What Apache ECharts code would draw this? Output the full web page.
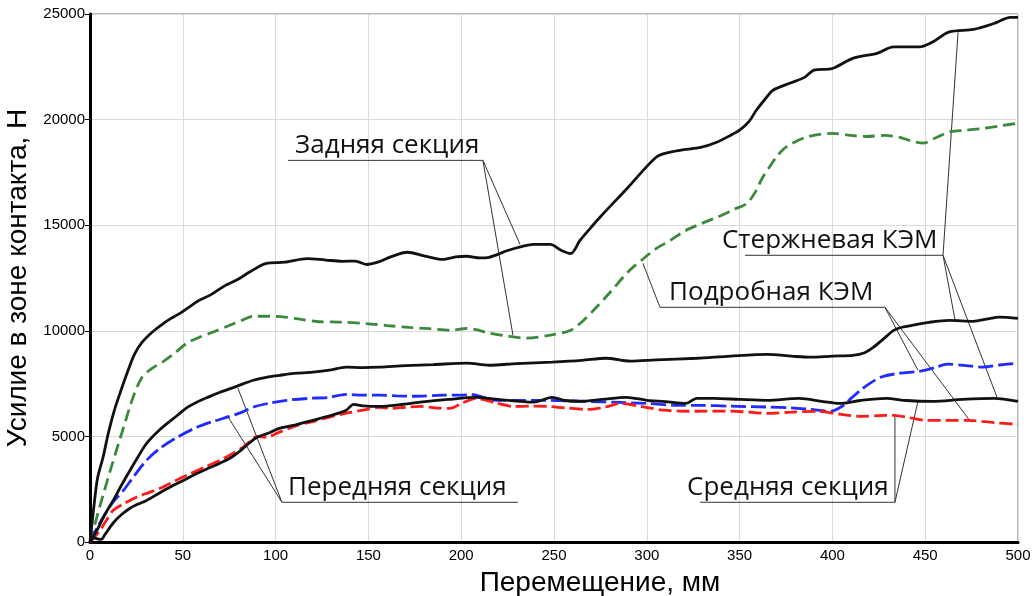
<!DOCTYPE html>
<html>
<head>
<meta charset="utf-8">
<script src="https://cdn.jsdelivr.net/npm/echarts@6/dist/echarts.min.js"></script>
<style>
  html, body { margin: 0; padding: 0; background: #fff; }
  #chart { width: 1033px; height: 596px; }
</style>
</head>
<body>
<div id="chart"></div>
<script>
// Contact force vs displacement for three sections, rod FE model (solid) and detailed FE model (dashed)

// Rear section, rod model
const rearRod = [[0,0],[2,1600],[4,3000],[7,4000],[10,5200],[13,6200],[16,7000],[20,8000],[24,8900],[28,9450],[33,9900],[38,10250],[43,10550],[48,10800],[53,11100],[58,11400],[65,11700],[72,12100],[80,12450],[86,12780],[95,13190],[105,13250],[117,13420],[127,13350],[136,13290],[143,13300],[149,13140],[155,13250],[162,13500],[171,13720],[180,13550],[190,13380],[197,13500],[203,13530],[210,13450],[215,13480],[225,13800],[233,14000],[239,14090],[248,14090],[254,13800],[259,13660],[264,14280],[270,14900],[275,15400],[290,16800],[305,18220],[312,18450],[320,18580],[329,18680],[338,18940],[345,19250],[350,19500],[355,19900],[359,20440],[364,21000],[368,21390],[377,21720],[385,22000],[390,22340],[400,22420],[411,22900],[424,23140],[433,23440],[447,23440],[454,23670],[463,24150],[476,24270],[487,24550],[496,24840],[500,24840]];
// Rear section, detailed model
const rearDet = [[0,0],[6,1900],[12,3700],[18,5400],[23,6800],[28,7800],[33,8200],[39,8520],[45,8900],[52,9400],[59,9700],[66,9930],[75,10250],[82,10500],[88,10690],[97,10690],[105,10650],[113,10550],[122,10440],[130,10420],[138,10400],[149,10340],[160,10250],[172,10160],[183,10100],[194,10030],[203,10110],[208,10050],[215,9890],[225,9750],[235,9650],[248,9790],[259,10030],[266,10500],[273,11130],[280,11800],[290,12800],[298,13400],[305,13890],[313,14300],[321,14750],[330,15100],[338,15380],[347,15750],[354,16040],[359,16650],[362,17200],[366,17740],[370,18250],[375,18700],[386,19170],[400,19350],[410,19250],[418,19200],[428,19250],[436,19170],[442,19000],[449,18890],[456,19150],[463,19420],[472,19500],[481,19580],[490,19700],[500,19830]];
// Front section, rod model
const frontRod = [[0,0],[4,600],[8,1300],[12.5,1970],[17,2700],[21.6,3400],[26,4050],[30.5,4670],[38,5350],[47,5990],[52,6350],[57.5,6620],[64,6870],[70,7090],[79,7370],[88,7660],[95,7800],[102,7890],[110,7980],[120,8040],[130,8150],[138,8280],[147,8260],[156,8280],[170,8350],[185,8400],[203,8470],[215,8370],[230,8450],[249,8520],[265,8600],[278,8700],[291,8560],[305,8620],[327,8700],[345,8800],[365,8880],[378,8800],[388,8750],[400,8800],[411,8840],[417,8950],[422,9220],[428,9650],[433,10020],[438,10180],[443,10260],[452,10400],[463,10490],[476,10450],[483,10550],[490,10650],[500,10590]];
// Front section, detailed model
const frontDet = [[0,0],[4,700],[8,1300],[12.5,1900],[18,2440],[24,3150],[30.5,3870],[38,4450],[47,4960],[57.5,5430],[66,5700],[74,5910],[82,6150],[88,6390],[97,6580],[106,6710],[118,6800],[129,6850],[138,6990],[147,6950],[156,6950],[165,6920],[174,6900],[190,6950],[200,6950],[205,6990],[212,6850],[219,6710],[232,6700],[246,6710],[260,6680],[270,6650],[282,6620],[300,6560],[318,6470],[329,6470],[345,6430],[365,6390],[378,6350],[388,6280],[399,6190],[406,6470],[410,6800],[415,7180],[420,7500],[426,7800],[436,7990],[447,8080],[455,8250],[462,8420],[472,8350],[481,8280],[490,8380],[500,8470]];
// Middle section, rod model
const midRod = [[0,0],[2,200],[4,150],[6,120],[8,350],[12.5,900],[17,1300],[21.6,1600],[26,1800],[30.5,1970],[37,2300],[43,2590],[50,2900],[57.5,3240],[64,3500],[70,3730],[76,4000],[82.5,4430],[86,4700],[90,4960],[96,5150],[102,5380],[111,5550],[120,5760],[130,6000],[138,6240],[142,6520],[147,6450],[156,6420],[167,6500],[178,6620],[193,6750],[208,6850],[220,6750],[239,6620],[249,6850],[256,6700],[264,6660],[276,6750],[289,6850],[300,6710],[310,6650],[321,6560],[327,6800],[336,6800],[350,6750],[365,6710],[382,6800],[395,6650],[404,6560],[415,6700],[429,6800],[440,6700],[454,6660],[470,6750],[487,6800],[500,6660]];
// Middle section, detailed model
const midDet = [[0,0],[5.4,550],[9,1050],[12.5,1500],[18,1800],[25,2120],[32,2350],[39,2590],[46,2900],[54,3240],[62,3550],[70,3870],[76,4150],[82.5,4490],[86,4750],[90,5000],[95,4960],[102,5200],[111.5,5520],[120,5700],[129,5910],[138,6100],[147,6240],[156,6380],[162,6330],[170,6380],[178,6420],[186,6350],[194,6330],[200,6550],[208,6800],[218,6600],[228,6420],[237,6430],[246,6420],[256,6350],[268,6280],[278,6400],[286,6560],[298,6400],[309,6240],[318,6200],[327,6190],[345,6200],[365,6090],[378,6150],[392,6190],[404,6050],[415,5950],[425,5980],[433,6000],[442,5880],[451,5760],[462,5760],[473,5760],[487,5650],[500,5570]];

// Callout labels (data coordinates: text left edge, underline level, underline span)
const noteLabels = ['Задняя секция', 'Стержневая КЭМ', 'Подробная КЭМ', 'Передняя секция', 'Средняя секция'];
const noteTextX = [110.5, 340.5, 312.0, 106.7, 321.7];
const noteLineY = [18070, 13575, 11113, 1880, 1880];
const noteUnderline = [[106.7, 211.7], [352.9, 459.6], [307.1, 428.3], [103.4, 230.6], [328.7, 433.7]];
// Leader lines from the underline ends to the curves
const noteLeaders = [
  [[211.7,18070],[231.7,14090]], [[211.7,18070],[227.9,9790]],
  [[459.6,13575],[467.7,24135]], [[459.6,13575],[466.1,10500]], [[459.6,13575],[488.7,6851]],
  [[307.1,11113],[297.9,13197]], [[428.3,11113],[446.1,8134]], [[428.3,11113],[474.7,5670]],
  [[103.4,1880],[79.7,7282]], [[103.4,1880],[73.8,6000]],
  [[433.7,1880],[446.1,6662]], [[433.7,1880],[433.7,5952]]
];

const xTitle = 'Перемещение, мм';
const yTitle = 'Усилие в зоне контакта, Н';

const chart = echarts.init(document.getElementById('chart'), null, { renderer: 'canvas' });

function curve(name, data, color, dashed) {
  return {
    name, type: 'line', data, showSymbol: false, symbol: 'none', smooth: 0.3,
    lineStyle: { color, width: 2.8, type: dashed ? dashed : 'solid' },
    z: 3, silent: true, animation: false
  };
}

const calloutLines = [];
noteUnderline.forEach((u, i) => {
  calloutLines.push({ coords: [[u[0], noteLineY[i]], [u[1], noteLineY[i]]] });
});
noteLeaders.forEach(seg => calloutLines.push({ coords: seg }));

chart.setOption({
  animation: false,
  backgroundColor: '#fff',
  grid: {
    left: 90, right: 15, top: 14, bottom: 54, containLabel: false, outerBoundsMode: 'none',
    show: true, borderColor: '#777', borderWidth: 1
  },
  xAxis: {
    type: 'value', min: 0, max: 500, interval: 50,
    name: xTitle, nameLocation: 'middle', nameGap: 27,
    nameTextStyle: { fontFamily: 'Liberation Sans, Arial', fontSize: 28, color: '#000', padding: [0, 0, 0, 92] },
    axisLine: { show: true, onZero: false, lineStyle: { color: '#000', width: 3 } },
    axisTick: { show: false },
    axisLabel: { color: '#000', fontFamily: 'Liberation Sans, Arial', fontSize: 15, margin: 6 },
    splitLine: { show: true, lineStyle: { color: '#dadada', width: 1 } }
  },
  yAxis: {
    type: 'value', min: 0, max: 25000, interval: 5000,
    name: yTitle, nameLocation: 'middle', nameGap: 56,
    nameTextStyle: { fontFamily: 'Liberation Sans, Arial', fontSize: 28, color: '#000' },
    axisLine: { show: true, onZero: false, lineStyle: { color: '#000', width: 3 } },
    axisTick: { show: true, length: 5, lineStyle: { color: '#000', width: 1 } },
    axisLabel: {
      color: '#000', fontFamily: 'Liberation Sans, Arial', fontSize: 15, margin: 5,
      formatter: v => String(v)
    },
    splitLine: { show: true, lineStyle: { color: '#dadada', width: 1 } }
  },
  series: [
    {
      name: 'callouts', type: 'lines', coordinateSystem: 'cartesian2d', polyline: true,
      data: calloutLines, silent: true, z: 2,
      lineStyle: { color: '#333', width: 1, opacity: 1 }
    },
    curve('rearDet', rearDet, '#3b8a3b', [12, 6]),
    curve('frontDet', frontDet, '#1f2bff', [15, 5]),
    curve('midDet', midDet, '#ff1a1a', [13, 5]),
    curve('rearRod', rearRod, '#111'),
    curve('frontRod', frontRod, '#111'),
    curve('midRod', midRod, '#111')
  ]
});

// Callout text, placed from data coordinates
const texts = noteLabels.map((t, i) => {
  const p = chart.convertToPixel({ gridIndex: 0 }, [noteTextX[i], noteLineY[i]]);
  return {
    type: 'text', x: p[0], y: p[1] - 2, z: 10, silent: true,
    style: { text: t, fill: '#111', font: '26px "Open Sans", sans-serif', textAlign: 'left', textVerticalAlign: 'bottom' }
  };
});
chart.setOption({ graphic: texts });
</script>
</body>
</html>
